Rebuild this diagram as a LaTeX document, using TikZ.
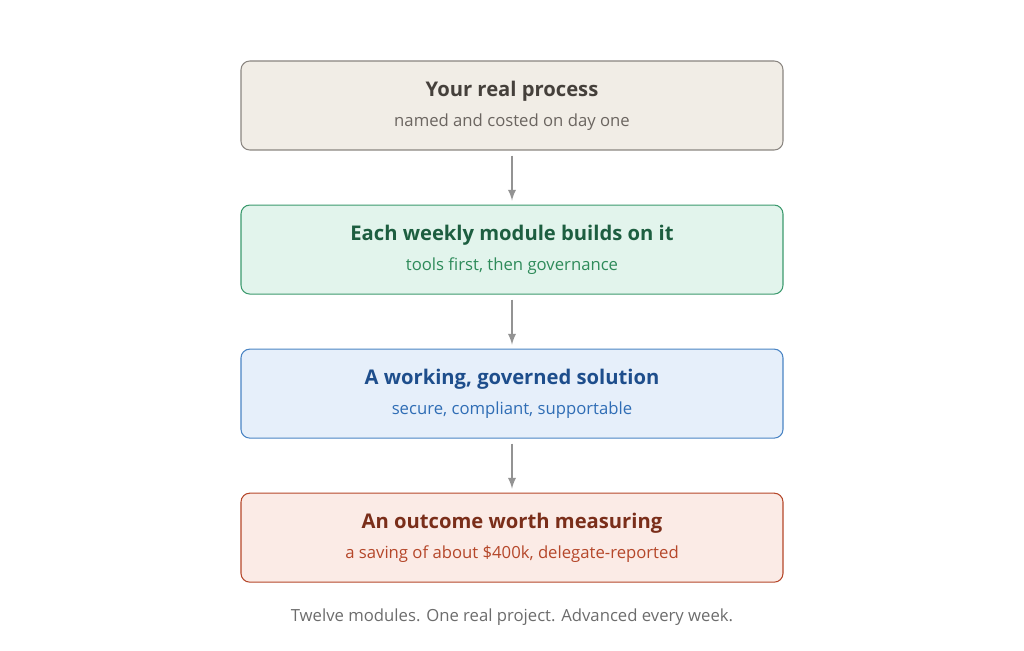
\documentclass[tikz,border=0pt]{standalone}
\usepackage{fontspec}
\setmainfont{Open Sans}
\usetikzlibrary{positioning}
\definecolor{boxA}{HTML}{F1EDE6}\definecolor{lineA}{HTML}{8A8580}\definecolor{headA}{HTML}{45403B}\definecolor{subA}{HTML}{6B6560}
\definecolor{boxB}{HTML}{E2F4EC}\definecolor{lineB}{HTML}{3C9A6E}\definecolor{headB}{HTML}{1D5E40}\definecolor{subB}{HTML}{2E8B5A}
\definecolor{boxC}{HTML}{E6EFFA}\definecolor{lineC}{HTML}{4A84C4}\definecolor{headC}{HTML}{1E4E8C}\definecolor{subC}{HTML}{2F6DB5}
\definecolor{boxD}{HTML}{FBEBE6}\definecolor{lineD}{HTML}{B5472A}\definecolor{headD}{HTML}{7A2E1A}\definecolor{subD}{HTML}{B5472A}
\tikzset{
  step/.style={draw=line#1, fill=box#1, rounded corners=5pt, line width=0.6pt,
    minimum width=10.84cm, minimum height=1.78cm, align=center},
  link/.style={->, >=latex, draw=gray!85, line width=1.1pt}
}
\newcommand{\stagetext}[3]{{\fontsize{11.5}{14}\selectfont\color{head#1}\bfseries #2}\\[5pt]{\fontsize{9.5}{12}\selectfont\color{sub#1}#3}}
\begin{document}
\begin{tikzpicture}
  \useasboundingbox (0,0) rectangle (20.48,-13.02);
  % stages
  \node[step=A] (real) at (10.24,-2.11) {\stagetext{A}{Your real process}{named and costed on day one}};
  \node[step=B, below=1.08cm of real] (weekly) {\stagetext{B}{Each weekly module builds on it}{tools first, then governance}};
  \node[step=C, below=1.08cm of weekly] (solution) {\stagetext{C}{A working, governed solution}{secure, compliant, supportable}};
  \node[step=D, below=1.08cm of solution] (outcome) {\stagetext{D}{An outcome worth measuring}{a saving of about \$400k, delegate-reported}};
  % links
  \draw[link] ([yshift=-0.1cm]real.south) -- ([yshift=0.08cm]weekly.north);
  \draw[link] ([yshift=-0.1cm]weekly.south) -- ([yshift=0.08cm]solution.north);
  \draw[link] ([yshift=-0.1cm]solution.south) -- ([yshift=0.08cm]outcome.north);
  % caption
  \node[below=0.4cm of outcome, font=\fontsize{9.5}{12}\selectfont, text=gray!85!black] (caption) {Twelve modules. One real project. Advanced every week.};
\end{tikzpicture}
\end{document}
